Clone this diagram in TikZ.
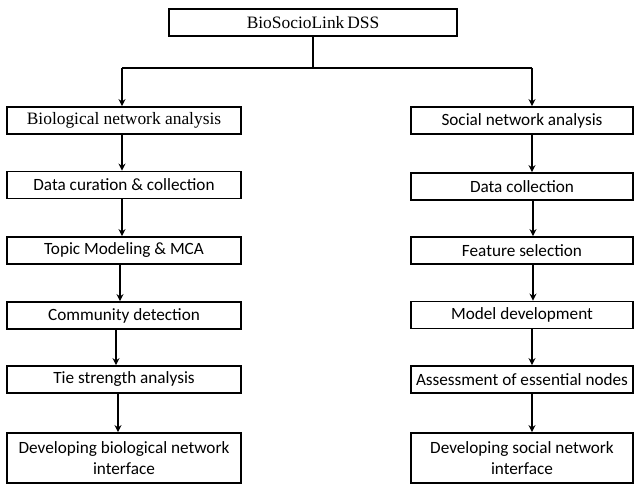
\documentclass[tikz,border=0pt]{standalone}
\usepackage{fontspec}
\setmainfont{Liberation Serif}
\newfontfamily\calib{Carlito}
\usetikzlibrary{arrows.meta}
\begin{document}
\begin{tikzpicture}[x=1pt,y=-1pt,
  box/.style={draw, line width=1.8pt, inner sep=0pt, align=center, font=\calib\fontsize{17.2}{21}\selectfont},
  lbox/.style={box, minimum width=234pt},
  rbox/.style={box, minimum width=222pt},
  sbox/.style={minimum height=27pt},
  tbox/.style={minimum height=50pt},
  serif/.style={font=\rmfamily\fontsize{17.4}{20}\selectfont},
  arr/.style={line width=1.8pt, -{Stealth[length=7pt,width=7pt]}},
  ln/.style={line width=1.8pt}]
\useasboundingbox (0,0) rectangle (635,484);
\node[box, serif, minimum width=288pt, minimum height=27pt] (top) at (313,22.5) {BioSocioLink\,DSS};

\node[lbox, sbox, serif] (l1) at (124,120.5) {Biological network analysis};
\node[lbox, sbox] (l2) at (124,185) {Data curation \& collection};
\node[lbox, sbox] (l3) at (124,250.5) {Topic Modeling \& MCA};
\node[lbox, sbox] (l4) at (124,315.5) {Community detection};
\node[lbox, sbox] (l5) at (124,379.5) {Tie strength analysis};
\node[lbox, tbox] (l6) at (124,458) {Developing biological network\\interface};

\node[rbox, sbox] (r1) at (522,120.5) {Social network analysis};
\node[rbox, sbox] (r2) at (522,186.5) {Data collection};
\node[rbox, sbox] (r3) at (522,250.5) {Feature selection};
\node[rbox, sbox] (r4) at (522,315) {Model development};
\node[rbox, sbox] (r5) at (522,379.5) {Assessment of essential nodes};
\node[rbox, tbox] (r6) at (522,458) {Developing social network\\interface};

\coordinate (j) at (313,68);
\coordinate (jl) at (122,68);
\coordinate (jr) at (532,68);
\draw[ln] (top.south) -- (j);
\draw[ln] (jl) -- (jr);
\draw[arr] (jl) -- (jl |- l1.north);
\draw[arr] (jr) -- (jr |- r1.north);

\foreach \a/\b/\s in {l1/l2/-2, l2/l3/-2, l3/l4/-4, l4/l5/-8, l5/l6/-6}{
  \draw[arr] ([xshift=\s pt]\a.south) -- ([xshift=\s pt]\b.north);
}
\foreach \a/\b/\s in {r1/r2/10, r2/r3/11, r3/r4/11, r4/r5/10, r5/r6/10}{
  \draw[arr] ([xshift=\s pt]\a.south) -- ([xshift=\s pt]\b.north);
}
\end{tikzpicture}
\end{document}
